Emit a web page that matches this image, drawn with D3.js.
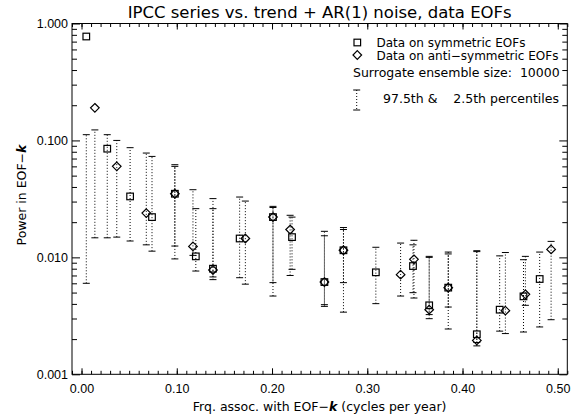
<!DOCTYPE html>
<html lang="en">
<head>
    <meta charset="UTF-8">
    <title>IPCC series vs. trend + AR(1) noise, data EOFs</title>
    <script src="https://cdnjs.cloudflare.com/ajax/libs/d3/7.8.5/d3.min.js"></script>
    <style>
        body { margin: 0; background: #fff; }
        svg { display: block; font-family: "DejaVu Sans", sans-serif; }
        .axis text { font-size: 12.5px; fill: #000; }
        .axis line { stroke: #000; }
        .axis path { display: none; }
    </style>
</head>
<body>
    <div id="chart"></div>

    <script>
        // symmetric EOFs (squares): frequency, power, 2.5th and 97.5th percentiles
        const freqSym = [0.005, 0.027, 0.051, 0.074, 0.098, 0.120, 0.138, 0.166, 0.201, 0.221,
                         0.255, 0.275, 0.309, 0.348, 0.365, 0.385, 0.415, 0.439, 0.464, 0.481];
        const powSym  = [0.774, 0.085, 0.0332, 0.0221, 0.035, 0.0102, 0.0080, 0.0145, 0.0221, 0.0149,
                         0.00615, 0.0115, 0.00745, 0.00843, 0.00389, 0.00551, 0.0022, 0.00357, 0.00464, 0.00653];
        const loSym   = [0.0060, 0.0147, 0.0138, 0.0113, 0.0097, 0.00764, 0.0068, 0.0067, 0.00608, 0.0079,
                         0.00394, 0.00608, 0.00402, 0.00499, 0.00324, 0.00376, 0.00187, 0.00234, 0.0023, 0.00254];
        const hiSym   = [0.112, 0.112, 0.0867, 0.073, 0.060, 0.0261, 0.0318, 0.0328, 0.0273, 0.0221,
                         0.0167, 0.0180, 0.0122, 0.0128, 0.0102, 0.0111, 0.0114, 0.0103, 0.00955, 0.0111];

        // anti-symmetric EOFs (diamonds)
        const freqAnti = [0.014, 0.037, 0.068, 0.098, 0.117, 0.138, 0.172, 0.201, 0.219, 0.255,
                          0.275, 0.335, 0.349, 0.365, 0.385, 0.415, 0.445, 0.466, 0.493];
        const powAnti  = [0.19, 0.060, 0.0239, 0.035, 0.0124, 0.0078, 0.0145, 0.0221, 0.0173, 0.00615,
                          0.0115, 0.00711, 0.00962, 0.00357, 0.00551, 0.00195, 0.0035, 0.00483, 0.0117];
        const loAnti   = [0.0147, 0.0149, 0.0128, 0.0125, 0.0104, 0.00645, 0.0059, 0.00467, 0.0070, 0.00381,
                          0.0034, 0.00467, 0.00449, 0.00299, 0.00244, 0.00175, 0.00223, 0.00389, 0.00293];
        const hiAnti   = [0.123, 0.100, 0.078, 0.062, 0.0379, 0.0261, 0.0303, 0.0267, 0.0229, 0.0153,
                          0.0173, 0.01325, 0.0140, 0.0100, 0.0107, 0.0112, 0.0110, 0.0102, 0.0137];

        const xMajor = [0, 0.1, 0.2, 0.3, 0.4, 0.5];
        const yMajor = [0.001, 0.01, 0.1, 1];

        const width = 576, height = 416;
        const mLeft = 72, mRight = 567.3, mTop = 23.5, mBottom = 374.3;

        const svg = d3.select("#chart").append("svg")
            .attr("width", width)
            .attr("height", height);

        const x = d3.scaleLinear().domain([-0.01, 0.51]).range([mLeft, mRight]);
        const y = d3.scaleLog().domain([0.001, 1]).range([mBottom, mTop]);

        // minor tick positions
        const xMinor = d3.range(-0.01, 0.5101, 0.01).map(v => +v.toFixed(2));
        const yMinor = [];
        [0.001, 0.01, 0.1].forEach(d => { for (let m = 2; m <= 9; m++) yMinor.push(d * m); });

        // axes, ticks pointing inward on all four sides
        svg.append("g").attr("class", "axis").attr("transform", `translate(0,${mBottom})`)
            .call(d3.axisBottom(x).tickValues(xMajor).tickFormat(d3.format(".2f")).tickSize(-6).tickPadding(10));
        svg.append("g").attr("class", "axis").attr("transform", `translate(0,${mBottom})`)
            .call(d3.axisBottom(x).tickValues(xMinor).tickFormat("").tickSize(-3.5));
        svg.append("g").attr("class", "axis").attr("transform", `translate(0,${mTop})`)
            .call(d3.axisTop(x).tickValues(xMajor).tickFormat("").tickSize(-6));
        svg.append("g").attr("class", "axis").attr("transform", `translate(0,${mTop})`)
            .call(d3.axisTop(x).tickValues(xMinor).tickFormat("").tickSize(-3.5));

        svg.append("g").attr("class", "axis").attr("transform", `translate(${mLeft},0)`)
            .call(d3.axisLeft(y).tickValues(yMajor).tickFormat(d3.format(".3f")).tickSize(-8).tickPadding(4));
        svg.append("g").attr("class", "axis").attr("transform", `translate(${mLeft},0)`)
            .call(d3.axisLeft(y).tickValues(yMinor).tickFormat("").tickSize(-5));
        svg.append("g").attr("class", "axis").attr("transform", `translate(${mRight},0)`)
            .call(d3.axisRight(y).tickValues(yMajor).tickFormat("").tickSize(-8));
        svg.append("g").attr("class", "axis").attr("transform", `translate(${mRight},0)`)
            .call(d3.axisRight(y).tickValues(yMinor).tickFormat("").tickSize(-5));

        svg.append("rect")
            .attr("x", mLeft).attr("y", mTop)
            .attr("width", mRight - mLeft).attr("height", mBottom - mTop)
            .attr("fill", "none").attr("stroke", "#000");

        // titles
        svg.append("text")
            .attr("x", (mLeft + mRight) / 2).attr("y", 17.5)
            .attr("text-anchor", "middle").attr("font-size", "16.5px")
            .text("IPCC series vs. trend + AR(1) noise, data EOFs");

        const xl = svg.append("text")
            .attr("x", (mLeft + mRight) / 2).attr("y", 411)
            .attr("text-anchor", "middle").attr("font-size", "12.5px");
        xl.append("tspan").text("Frq. assoc. with EOF\u2212");
        xl.append("tspan").attr("font-weight", "bold").attr("font-style", "italic").text("k");
        xl.append("tspan").text(" (cycles per year)");

        const yl = svg.append("text")
            .attr("transform", "translate(26,195) rotate(-90)")
            .attr("text-anchor", "middle").attr("font-size", "12.5px");
        yl.append("tspan").text("Power in EOF\u2212");
        yl.append("tspan").attr("font-weight", "bold").attr("font-style", "italic").text("k");

        // error bars
        function errorBars(freq, lo, hi) {
            const g = svg.append("g").attr("stroke", "#000");
            const idx = d3.range(freq.length);
            g.selectAll("line.bar").data(idx).join("line")
                .attr("class", "bar")
                .attr("x1", i => x(freq[i])).attr("x2", i => x(freq[i]))
                .attr("y1", i => y(lo[i])).attr("y2", i => y(hi[i]))
                .attr("stroke-dasharray", "1,2");
            g.selectAll("line.cap").data(idx.flatMap(i => [[i, lo[i]], [i, hi[i]]])).join("line")
                .attr("class", "cap")
                .attr("x1", d => x(freq[d[0]]) - 3.5).attr("x2", d => x(freq[d[0]]) + 3.5)
                .attr("y1", d => y(d[1])).attr("y2", d => y(d[1]));
        }
        errorBars(freqSym, loSym, hiSym);
        errorBars(freqAnti, loAnti, hiAnti);

        // markers
        const sq = 3.3, dm = 4.3;
        svg.append("g").selectAll("rect").data(d3.range(freqSym.length)).join("rect")
            .attr("x", i => x(freqSym[i]) - sq).attr("y", i => y(powSym[i]) - sq)
            .attr("width", 2 * sq).attr("height", 2 * sq)
            .attr("fill", "none").attr("stroke", "#000").attr("stroke-width", 1.2);
        svg.append("g").selectAll("path").data(d3.range(freqAnti.length)).join("path")
            .attr("d", i => {
                const cx = x(freqAnti[i]), cy = y(powAnti[i]);
                return `M${cx},${cy - dm}L${cx + dm},${cy}L${cx},${cy + dm}L${cx - dm},${cy}Z`;
            })
            .attr("fill", "none").attr("stroke", "#000").attr("stroke-width", 1.2);

        // legend
        const lg = svg.append("g").attr("font-size", "12px");
        lg.append("rect").attr("x", 357.3 - sq).attr("y", 42.5 - sq)
            .attr("width", 2 * sq).attr("height", 2 * sq)
            .attr("fill", "none").attr("stroke", "#000").attr("stroke-width", 1.2);
        lg.append("text").attr("x", 376.5).attr("y", 42.5).attr("dy", "0.35em").text("Data on symmetric EOFs");
        lg.append("path")
            .attr("d", `M357.3,${55 - dm}L${357.3 + dm},55L357.3,${55 + dm}L${357.3 - dm},55Z`)
            .attr("fill", "none").attr("stroke", "#000").attr("stroke-width", 1.2);
        lg.append("text").attr("x", 376.5).attr("y", 55.5).attr("dy", "0.35em").text("Data on anti\u2212symmetric EOFs");
        lg.append("text").attr("x", 353).attr("y", 73).attr("dy", "0.35em")
            .attr("font-size", "12.5px").style("white-space", "pre")
            .text("Surrogate ensemble size:  10000");
        lg.append("line").attr("x1", 356.7).attr("x2", 356.7).attr("y1", 90).attr("y2", 110)
            .attr("stroke", "#000").attr("stroke-dasharray", "1,2");
        [90, 110].forEach(v => lg.append("line")
            .attr("x1", 353.2).attr("x2", 360.2).attr("y1", v).attr("y2", v).attr("stroke", "#000"));
        lg.append("text").attr("x", 383).attr("y", 99).attr("dy", "0.35em")
            .attr("font-size", "12.5px").style("white-space", "pre")
            .text("97.5th &    2.5th percentiles");
    </script>
</body>
</html>
